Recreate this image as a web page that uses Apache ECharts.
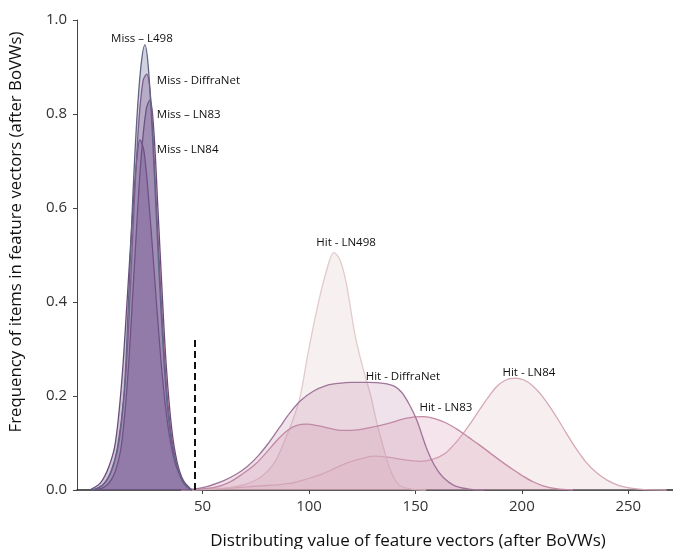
<!DOCTYPE html>
<html>
<head>
<meta charset="utf-8">
<script src="https://cdn.jsdelivr.net/npm/echarts@6/dist/echarts.min.js"></script>
<style>html,body{margin:0;padding:0;background:#fff}#c{width:673px;height:549px}</style>
</head>
<body>
<div id="c"></div>
<script>
// x tick labels and y ticks
const xTicks = [50, 100, 150, 200, 250];
const yTicks = [0, 0.2, 0.4, 0.6, 0.8, 1.0];

// Miss curves [value, frequency]
const missL498 = [[-2,0],[3,0.01],[7,0.04],[10,0.09],[13,0.2],[15,0.38],[17,0.6],[19,0.78],[21,0.9],[22.9,0.947],[24.5,0.9],[26.5,0.75],[28.5,0.56],[30.5,0.38],[33,0.2],[35.5,0.1],[38,0.05],[41,0.015],[45,0]];
const missDiffraNet = [[-1,0],[4,0.015],[8,0.05],[11,0.11],[14,0.25],[16,0.42],[18,0.62],[20,0.78],[22,0.87],[23.7,0.885],[25.5,0.84],[27.5,0.68],[29.5,0.5],[31.5,0.33],[34,0.17],[37,0.07],[40,0.025],[44,0]];
const missLN83 = [[0,0],[5,0.01],[9,0.04],[12,0.1],[15,0.25],[18,0.48],[21,0.7],[23.5,0.81],[25.3,0.83],[27,0.77],[29,0.6],[31,0.42],[33,0.26],[35.5,0.13],[38,0.06],[41,0.02],[45,0]];
const missLN84 = [[-3,0],[2,0.015],[6,0.05],[9,0.1],[12,0.23],[14.5,0.4],[17,0.58],[19,0.7],[20.6,0.745],[22.5,0.72],[25,0.6],[27.5,0.45],[30,0.3],[32.5,0.18],[35,0.1],[38,0.045],[42,0.01],[45,0]];

// Hit curves
const hitLN498 = [[45,0],[60,0.004],[70,0.012],[78,0.03],[84,0.06],[89,0.11],[92.5,0.15],[95.8,0.198],[99.5,0.29],[104,0.39],[108.3,0.468],[111.7,0.505],[114.5,0.49],[117.5,0.44],[121.6,0.33],[125,0.265],[129,0.2],[132,0.14],[135,0.09],[138,0.045],[142,0.012],[148,0.002],[155,0]];
const hitDiffraNet = [[40,0],[50,0.005],[60,0.02],[66,0.034],[71,0.05],[76,0.072],[81,0.1],[86,0.132],[91,0.164],[96,0.19],[102,0.21],[108,0.222],[114,0.227],[120,0.229],[128,0.229],[135,0.227],[140,0.221],[143.5,0.208],[147,0.183],[150.6,0.149],[155.3,0.088],[159,0.052],[163,0.027],[168,0.01],[175,0.002],[182,0]];
const hitLN83 = [[40,0],[55,0.005],[62,0.015],[69,0.035],[75,0.056],[80,0.08],[85,0.106],[90,0.127],[94,0.137],[98.9,0.14],[104,0.137],[109.8,0.131],[115,0.127],[120,0.127],[128,0.132],[136,0.14],[146,0.153],[153.7,0.156],[159,0.152],[164.7,0.142],[170,0.128],[175,0.112],[180,0.096],[185,0.079],[190,0.062],[195,0.046],[200,0.031],[205,0.018],[210,0.009],[216,0.003],[224,0]];
const hitLN84 = [[40,0],[60,0.003],[75,0.008],[91,0.014],[100,0.025],[106.7,0.035],[112,0.046],[117.7,0.057],[124,0.066],[130,0.072],[137,0.07],[145,0.064],[152,0.061],[158,0.065],[164,0.078],[168,0.096],[172,0.118],[176,0.143],[180,0.17],[184,0.196],[188,0.219],[192,0.233],[196.7,0.238],[201,0.234],[205,0.222],[209,0.203],[213,0.178],[217,0.15],[221,0.12],[225.5,0.088],[230,0.06],[235,0.037],[240,0.021],[246,0.009],[255,0.002],[268,0]];

// threshold line
const threshold = [46.4, 0.323];

// annotation labels: [text, x, y, align]
const annMissL498 = ['Miss – L498', 21.5, 0.96, 'center'];
const annMissDiffraNet = ['Miss - DiffraNet', 28.5, 0.871, 'left'];
const annMissLN83 = ['Miss – LN83', 28.5, 0.798, 'left'];
const annMissLN84 = ['Miss - LN84', 28.5, 0.725, 'left'];
const annHitLN498 = ['Hit - LN498', 117.4, 0.526, 'center'];
const annHitDiffraNet = ['Hit - DiffraNet', 144.1, 0.241, 'center'];
const annHitLN83 = ['Hit - LN83', 164.3, 0.175, 'center'];
const annHitLN84 = ['Hit - LN84', 203.3, 0.25, 'center'];

function ann(a) {
  return {
    coord: [a[1], a[2]],
    symbol: 'circle', symbolSize: 0,
    label: {
      show: true, formatter: a[0], position: 'inside', align: a[3], verticalAlign: 'middle',
      color: '#111', fontSize: 11.5, fontFamily: 'Open Sans', offset: [0, 0]
    }
  };
}

function curve(name, data, line, fill, annot, z) {
  return {
    name: name, type: 'line', data: data, smooth: 0.35, showSymbol: false, z: z,
    lineStyle: { color: line, width: 1.3 },
    areaStyle: { color: fill, origin: 'start' },
    emphasis: { disabled: true },
    markPoint: { silent: true, animation: false, data: [ann(annot)] }
  };
}

const chart = echarts.init(document.getElementById('c'), null, { renderer: 'canvas' });
chart.setOption({
  animation: false,
  grid: { left: 77, right: 0, top: 20, bottom: 59, outerBoundsMode: 'none', containLabel: false },
  xAxis: {
    type: 'value', min: -9, max: 271,
    name: 'Distributing value of feature vectors (after BoVWs)',
    nameLocation: 'middle', nameGap: 43,
    nameTextStyle: { fontSize: 17, color: '#111', fontFamily: 'Open Sans', padding: [0, 0, 0, 66] },
    axisLine: { onZero: false, lineStyle: { color: '#222', width: 1.5 } },
    axisTick: { show: true, length: 4, lineStyle: { color: '#444' }, customValues: xTicks },
    axisLabel: { fontSize: 15, color: '#333', fontFamily: 'Open Sans', margin: 9, customValues: xTicks },
    splitLine: { show: false }
  },
  yAxis: {
    type: 'value', min: 0, max: 1, interval: 0.2,
    name: 'Frequency of items in feature vectors (after BoVWs)',
    nameLocation: 'middle', nameGap: 52,
    nameTextStyle: { fontSize: 16.8, color: '#111', fontFamily: 'Open Sans', padding: [0, 0, 0, 46] },
    axisLine: { show: true, onZero: false, lineStyle: { color: '#444', width: 1 } },
    axisTick: { show: true, length: 4, lineStyle: { color: '#444' } },
    axisLabel: { fontSize: 15, color: '#333', fontFamily: 'Open Sans', margin: 10, formatter: v => v.toFixed(1) },
    splitLine: { show: false }
  },
  series: [
    curve('Hit - LN84', hitLN84, '#d6a8b8', 'rgba(228,196,204,0.42)', annHitLN84, 1),
    curve('Hit - LN498', hitLN498, '#e2cbcb', 'rgba(232,212,212,0.5)', annHitLN498, 2),
    curve('Hit - LN83', hitLN83, '#c48aa5', 'rgba(212,145,172,0.35)', annHitLN83, 3),
    curve('Hit - DiffraNet', hitDiffraNet, '#a0759a', 'rgba(185,130,165,0.33)', annHitDiffraNet, 4),
    curve('Miss - LN84', missLN84, '#6a4a7c', 'rgba(115,70,140,0.45)', annMissLN84, 5),
    curve('Miss - LN83', missLN83, '#6a4a7c', 'rgba(115,70,140,0.45)', annMissLN83, 6),
    curve('Miss - DiffraNet', missDiffraNet, '#8a5a8c', 'rgba(130,78,140,0.42)', annMissDiffraNet, 7),
    curve('Miss - L498', missL498, '#5e6482', 'rgba(100,100,145,0.42)', annMissL498, 8),
    {
      name: 'threshold', type: 'line', data: [], z: 10,
      markLine: {
        silent: true, animation: false, symbol: 'none', label: { show: false },
        lineStyle: { color: '#111', width: 2, type: [7, 4] },
        data: [[{ coord: [threshold[0], 0] }, { coord: [threshold[0], threshold[1]] }]]
      }
    }
  ]
});
</script>
</body>
</html>
